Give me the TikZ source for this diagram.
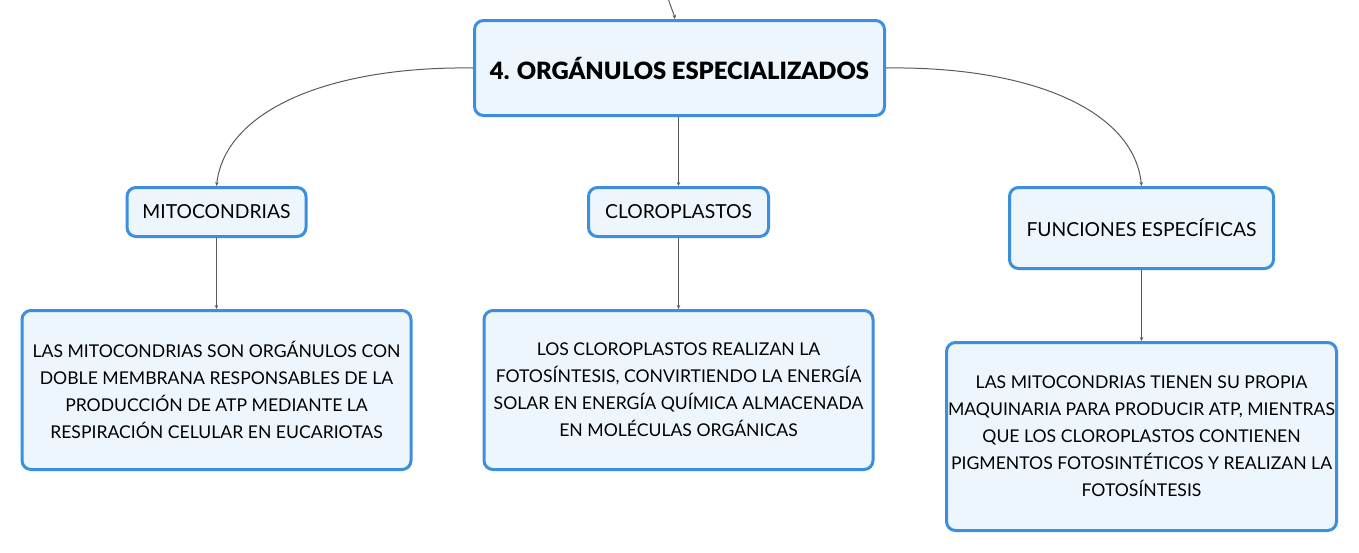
\documentclass[tikz,border=0pt]{standalone}
\usepackage{fontspec}
\setmainfont{Lato}
\newfontface\latoblack{Lato Black}
\usetikzlibrary{arrows.meta}
\definecolor{bordercol}{HTML}{3C8FDC}
\definecolor{fillcol}{HTML}{EEF6FD}
\definecolor{linecol}{HTML}{5A5A5A}
\tikzset{
  box/.style={draw=bordercol, line width=3pt, fill=fillcol, rounded corners=9pt, align=center, inner sep=0pt, text=black},
  conn/.style={draw=linecol, line width=1pt, -{Stealth[length=4pt,width=3.5pt]}},
  bodytxt/.style={font=\fontsize{17.6}{27}\selectfont},
  headtxt/.style={font=\fontsize{19.3}{22}\selectfont},
}
\begin{document}
\begin{tikzpicture}[x=1pt,y=1pt]
\useasboundingbox (0,0) rectangle (1359,-552);
\node[box, minimum width=410, minimum height=95, font=\fontsize{23.8}{26}\latoblack] (main) at (679.5,-68) {4. ORGÁNULOS ESPECIALIZADOS};
\node[box, headtxt, minimum width=179, minimum height=49] (mito) at (216.5,-212) {MITOCONDRIAS};
\node[box, headtxt, minimum width=180, minimum height=49] (cloro) at (678.5,-212) {CLOROPLASTOS};
\node[box, headtxt, minimum width=264, minimum height=81] (func) at (1141.5,-228) {FUNCIONES ESPECÍFICAS};
\node[box, bodytxt, minimum width=389, minimum height=159] (mitot) at (216.5,-390) {LAS MITOCONDRIAS SON ORGÁNULOS CON\\DOBLE MEMBRANA RESPONSABLES DE LA\\PRODUCCIÓN DE ATP MEDIANTE LA\\RESPIRACIÓN CELULAR EN EUCARIOTAS};
\node[box, bodytxt, minimum width=389, minimum height=159] (clorot) at (678.5,-390) {LOS CLOROPLASTOS REALIZAN LA\\FOTOSÍNTESIS, CONVIRTIENDO LA ENERGÍA\\SOLAR EN ENERGÍA QUÍMICA ALMACENADA\\EN MOLÉCULAS ORGÁNICAS};
\node[box, bodytxt, minimum width=390, minimum height=188] (funct) at (1141.5,-436.5) {LAS MITOCONDRIAS TIENEN SU PROPIA\\MAQUINARIA PARA PRODUCIR ATP, MIENTRAS\\QUE LOS CLOROPLASTOS CONTIENEN\\PIGMENTOS FOTOSINTÉTICOS Y REALIZAN LA\\FOTOSÍNTESIS};
\coordinate (topin) at (668,2);
\draw[conn] (topin) .. controls (671,-8) and (674,-14) .. (main.north -| 675,0);
\draw[conn] (main.west) .. controls (330,-66) and (225,-110) .. (mito.north);
\draw[conn] (main.east) .. controls (1030,-66) and (1134,-110) .. (func.north);
\draw[conn] (main.south -| cloro.north) -- (cloro.north);
\draw[conn] (mito.south) -- (mitot.north);
\draw[conn] (cloro.south) -- (clorot.north);
\draw[conn] (func.south) -- (funct.north);
\end{tikzpicture}
\end{document}
